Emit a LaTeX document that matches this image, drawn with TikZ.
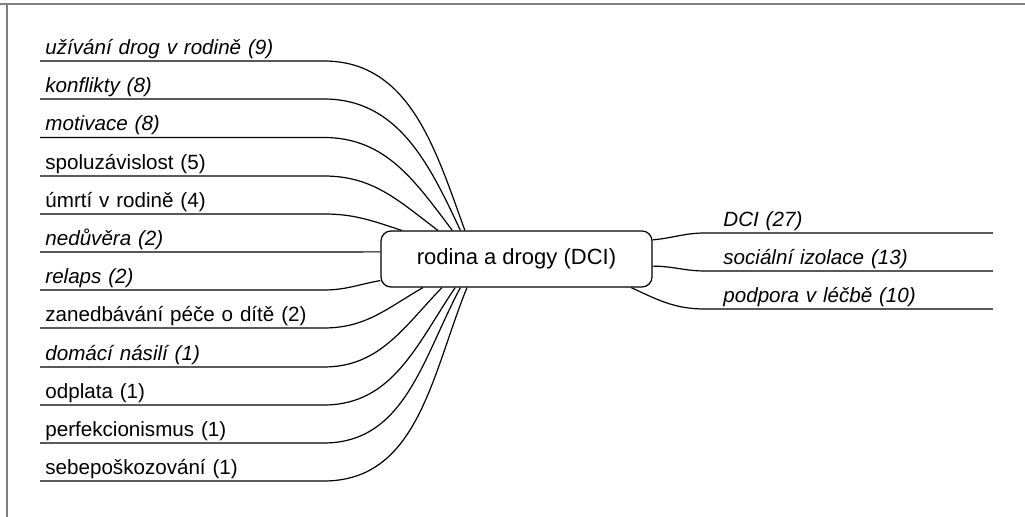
\documentclass[tikz,border=0pt]{standalone}
\usepackage{fontspec}
\setmainfont{Liberation Sans}
\begin{document}
\begin{tikzpicture}[x=0.5pt,y=0.5pt]
\tikzstyle{every node}+=[inner sep=0pt]
\tikzstyle{leaf}=[anchor=south west, inner xsep=2.5pt, inner ysep=1pt, text width=136.5pt, align=left, font=\fontsize{10.3}{12}\selectfont]
\tikzstyle{leafit}=[leaf, font=\fontsize{10.3}{12}\selectfont\itshape]
\tikzstyle{rleaf}=[leafit, inner xsep=9pt, text width=125.5pt]
\tikzstyle{branch}=[black, line width=0.6pt]
\useasboundingbox (0,0) rectangle (1025,-517);
\draw [gray, line width=1pt] (0,-4.5) -- (1025,-4.5);
\draw [gray, line width=1pt] (7,-4.5) -- (7,-517);
\node [draw, rounded corners=5pt, line width=0.6pt, minimum width=135.5pt, minimum height=28pt, font=\fontsize{11}{13}\selectfont] (c) at (516.5,-259) {rodina a drogy (DCI)};
\node [leafit] (l1) at (40,-61) {užívání drog v rodině (9)};
\node [leafit] (l2) at (40,-99) {konflikty (8)};
\node [leafit] (l3) at (40,-137.5) {motivace (8)};
\node [leaf] (l4) at (40,-176) {spoluzávislost (5)};
\node [leaf] (l5) at (40,-214) {úmrtí v rodině (4)};
\node [leafit] (l6) at (40,-252) {nedůvěra (2)};
\node [leafit] (l7) at (40,-290) {relaps (2)};
\node [leaf] (l8) at (40,-328) {zanedbávání péče o dítě (2)};
\node [leafit] (l9) at (40,-367) {domácí násilí (1)};
\node [leaf] (l10) at (40,-405) {odplata (1)};
\node [leaf] (l11) at (40,-443) {perfekcionismus (1)};
\node [leaf] (l12) at (40,-481) {sebepoškozování (1)};
\node [rleaf] (r1) at (705,-233) {DCI (27)};
\node [rleaf] (r2) at (705,-271) {sociální izolace (13)};
\node [rleaf] (r3) at (705,-309) {podpora v léčbě (10)};
\draw [branch] (l1.south west) -- (l1.south east) to[out=0,in=110] (c.151);
\draw [branch] (l2.south west) -- (l2.south east) to[out=0,in=115] (c.153.6);
\draw [branch] (l3.south west) -- (l3.south east) to[out=0,in=127] (c.156.5);
\draw [branch] (l4.south west) -- (l4.south east) to[out=0,in=143] (c.160.6);
\draw [branch] (l5.south west) -- (l5.south east) to[out=0,in=162] (c.166.3);
\draw [branch] (l6.south west) -- (l6.south east) -- (c.177);
\draw [branch] (l7.south west) -- (l7.south east) to[out=0,in=190] (c.189);
\draw [branch] (l8.south west) -- (l8.south east) to[out=0,in=210] (c.197);
\draw [branch] (l9.south west) -- (l9.south east) to[out=0,in=226] (c.201.7);
\draw [branch] (l10.south west) -- (l10.south east) to[out=0,in=236] (c.205.2);
\draw [branch] (l11.south west) -- (l11.south east) to[out=0,in=242] (c.207.6);
\draw [branch] (l12.south west) -- (l12.south east) to[out=0,in=248] (c.210);
\draw [branch] (c.8.8) to[out=5,in=180] (r1.south west) -- (r1.south east);
\draw [branch] (c.-3.8) to[out=0,in=180] (r2.south west) -- (r2.south east);
\draw [branch] (c.-14.6) to[out=-25,in=180] (r3.south west) -- (r3.south east);
\end{tikzpicture}
\end{document}
